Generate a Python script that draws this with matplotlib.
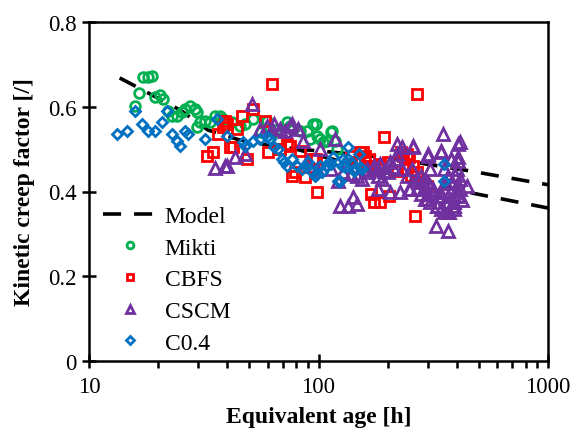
import matplotlib
matplotlib.use("Agg")
import matplotlib.pyplot as plt

plt.rcParams['font.family'] = ['Liberation Serif', 'DejaVu Serif']

# ---- data ----
model_lo_t = [13.6, 16, 20, 25, 33, 45, 60, 80, 100, 200, 480, 1000]
model_lo_k = [0.668, 0.648, 0.620, 0.592, 0.545, 0.522, 0.510, 0.500, 0.485, 0.443, 0.395, 0.361]
model_up_t = [80, 100, 200, 300, 440, 1000]
model_up_k = [0.500, 0.496, 0.480, 0.464, 0.450, 0.416]

mikti_t = [17.2, 18.1, 18.8, 16.5, 15.9, 19.4, 20.4, 21.0, 22.1, 23.0, 24.2, 25.5, 26.2, 27.6,
           29.0, 29.6, 30.5, 32.1, 33.7, 35.5, 37.3, 38.5, 29.6, 45.6, 51.9, 59.9, 61.7, 66.9,
           73.0, 75.5, 77.7, 83.3, 89.4, 97.3, 92.2, 102, 109, 115, 118, 121, 95, 113, 105,
           99, 56, 65, 42, 48]
mikti_k = [0.670, 0.670, 0.672, 0.633, 0.602, 0.623, 0.628, 0.619, 0.590, 0.579, 0.579, 0.588,
           0.595, 0.602, 0.595, 0.588, 0.564, 0.567, 0.564, 0.579, 0.579, 0.571, 0.553, 0.555,
           0.571, 0.567, 0.548, 0.520, 0.564, 0.555, 0.548, 0.543, 0.543, 0.560, 0.524, 0.524,
           0.520, 0.543, 0.520, 0.500, 0.560, 0.541, 0.517, 0.531, 0.540, 0.545, 0.565, 0.560]

cbfs_t = [36.6, 32.8, 34.7, 39.2, 41.3, 38.5, 62.8, 51.9, 46.5, 40.0, 44.3, 58.6, 42.5, 48.9,
          60.5, 68.2, 73.0, 83.3, 97.3, 76.9, 79.3, 87.6, 98.9, 270, 192, 152, 160, 234, 247,
          220, 239, 259, 270, 169, 174, 186, 202, 264, 286, 298, 166, 95, 157, 174, 186, 228,
          244, 147, 163, 181, 138, 252, 68, 75, 200]
cbfs_k = [0.536, 0.484, 0.493, 0.567, 0.505, 0.553, 0.654, 0.595, 0.579, 0.560, 0.548, 0.567,
          0.505, 0.477, 0.493, 0.500, 0.512, 0.496, 0.477, 0.437, 0.446, 0.434, 0.399, 0.630,
          0.529, 0.493, 0.484, 0.484, 0.482, 0.449, 0.453, 0.460, 0.446, 0.394, 0.375, 0.375,
          0.390, 0.342, 0.423, 0.413, 0.477, 0.477, 0.493, 0.460, 0.465, 0.493, 0.489, 0.470,
          0.460, 0.453, 0.484, 0.437, 0.500, 0.508, 0.470]

cscm_t = [35.5, 39.2, 51.4, 40.0, 43.4, 47.9, 55.6, 59.9, 62.8, 64.2, 68.2, 71.7, 75.5, 76.9,
          81.7, 86.0, 102, 118, 89.4, 98.9, 113, 128, 124, 135, 142, 147, 220, 232, 259, 301,
          348, 407, 342, 377, 407, 172, 181, 190, 200, 205, 216, 232, 244, 256, 270, 284, 292,
          307, 317, 333, 292, 307, 330, 342, 370, 389, 366, 383, 402, 414, 402, 407, 389, 205,
          227, 247, 279, 324, 366, 352, 155, 163, 181, 414, 122, 138, 147, 181, 163, 174, 186,
          212, 220, 259, 192, 251, 270, 301, 342, 377, 407, 279, 298, 317, 342, 366, 389, 298,
          330, 366, 389, 414, 445, 366, 307, 352, 395, 420, 360, 340]
cscm_k = [0.456, 0.460, 0.607, 0.460, 0.482, 0.489, 0.548, 0.555, 0.548, 0.560, 0.548, 0.543,
          0.555, 0.560, 0.548, 0.520, 0.500, 0.524, 0.472, 0.453, 0.453, 0.446, 0.366, 0.366,
          0.387, 0.371, 0.512, 0.505, 0.505, 0.484, 0.536, 0.512, 0.496, 0.477, 0.482, 0.453,
          0.437, 0.430, 0.446, 0.470, 0.477, 0.453, 0.437, 0.453, 0.430, 0.423, 0.406, 0.413,
          0.399, 0.390, 0.383, 0.375, 0.366, 0.359, 0.352, 0.366, 0.390, 0.423, 0.453, 0.430,
          0.406, 0.390, 0.375, 0.399, 0.399, 0.406, 0.394, 0.319, 0.307, 0.352, 0.430, 0.446,
          0.453, 0.517, 0.425, 0.441, 0.437, 0.406, 0.453, 0.460, 0.465, 0.458, 0.489, 0.508,
          0.449, 0.406, 0.406, 0.489, 0.493, 0.477, 0.472, 0.437, 0.423, 0.406, 0.390, 0.375,
          0.359, 0.383, 0.366, 0.352, 0.390, 0.406, 0.413, 0.437, 0.453, 0.453, 0.440, 0.380,
          0.420, 0.400]

c04_t = [13.2, 14.7, 15.9, 17.0, 18.1, 19.4, 20.8, 21.9, 23.0, 24.2, 25.0, 26.2, 27.0, 32.1,
         36.2, 40.0, 47.9, 47.0, 51.9, 55.6, 59.9, 61.7, 64.2, 66.9, 69.5, 73.0, 70.5, 80.9,
         85.0, 87.6, 90.4, 94.1, 98.9, 102, 109, 113, 122, 127, 134, 134, 128, 138, 145, 155,
         124, 352, 352, 77, 97, 104, 111, 116, 130, 143, 150, 152]
c04_k = [0.536, 0.543, 0.590, 0.560, 0.543, 0.543, 0.564, 0.590, 0.536, 0.520, 0.508, 0.543,
         0.536, 0.524, 0.571, 0.531, 0.508, 0.517, 0.520, 0.524, 0.529, 0.524, 0.505, 0.500,
         0.477, 0.460, 0.470, 0.460, 0.453, 0.460, 0.470, 0.446, 0.441, 0.460, 0.460, 0.465,
         0.425, 0.460, 0.477, 0.505, 0.477, 0.470, 0.453, 0.453, 0.425, 0.465, 0.425, 0.477,
         0.437, 0.446, 0.470, 0.482, 0.458, 0.449, 0.489, 0.458]

x_ticks = [10, 100, 1000]
x_ticklabels = ['10', '100', '1000']
y_ticks = [0, 0.2, 0.4, 0.6, 0.8]
y_ticklabels = ['0', '0.2', '0.4', '0.6', '0.8']

# ---- figure ----
fig = plt.figure(figsize=(5.76, 4.39), dpi=100)
ax = fig.add_axes([89/576, 1-362/439, (548-89)/576, (362-23)/439])

dash = (5, 3.6)
ax.plot(model_lo_t, model_lo_k, color='black', lw=2.6, dashes=dash, label='Model', zorder=2)
ax.plot(model_up_t, model_up_k, color='black', lw=2.6, dashes=dash, zorder=2)

mew = 2.0
ax.plot(mikti_t, mikti_k, ls='none', marker='o', ms=7, mfc='none', mec='#00B050', mew=mew,
        label='Mikti', zorder=3)
ax.plot(cbfs_t, cbfs_k, ls='none', marker='s', ms=7, mfc='none', mec='#FF0000', mew=mew,
        label='CBFS', zorder=3)
ax.plot(cscm_t, cscm_k, ls='none', marker='^', ms=8, mfc='none', mec='#7030A0', mew=mew,
        label='CSCM', zorder=3)
ax.plot(c04_t, c04_k, ls='none', marker='D', ms=5.5, mfc='none', mec='#0070C0', mew=mew,
        label='C0.4', zorder=3)

ax.set_xscale('log')
ax.set_xlim(10, 1000)
ax.set_ylim(0, 0.8)
ax.set_xticks(x_ticks)
ax.set_xticklabels(x_ticklabels)
ax.set_yticks(y_ticks)
ax.set_yticklabels(y_ticklabels)

for s in ax.spines.values():
    s.set_linewidth(1.8)

ax.tick_params(axis='both', which='major', direction='inout', length=10, width=1.8,
               labelsize=16.5, pad=4)
ax.tick_params(axis='x', which='minor', direction='out', length=5, width=1.8)
ax.tick_params(axis='x', which='major', pad=6)

ax.set_xlabel('Equivalent age [h]', fontsize=17, fontweight='bold', labelpad=6)
ax.set_ylabel('Kinetic creep factor [/]', fontsize=17, fontweight='bold', labelpad=9)

leg = ax.legend(loc='lower left', bbox_to_anchor=(0.0, -0.02), frameon=False, fontsize=17,
                handlelength=2.3, handletextpad=0.3, labelspacing=0.43, borderaxespad=0.2,
                markerscale=0.7)

fig.savefig('out.png', dpi=100)
